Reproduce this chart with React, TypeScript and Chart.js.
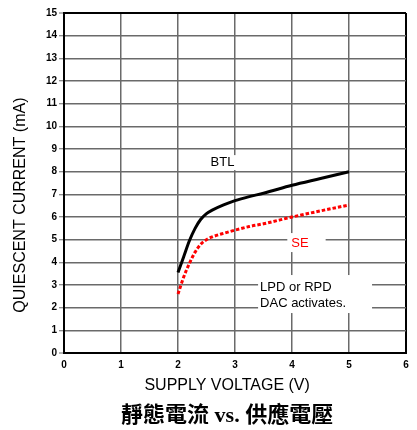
import React, { useEffect, useRef } from "react";
import { Chart, registerables } from "chart.js";

Chart.register(...registerables);

// ---- data ----
const supplyVoltage = [2.0, 2.1, 2.2, 2.3, 2.4, 2.5, 2.6, 2.8, 3.0, 3.25, 3.5, 4.0, 4.5, 5.0];
const btlCurrent = [3.55, 4.25, 4.95, 5.5, 5.9, 6.15, 6.3, 6.53, 6.72, 6.9, 7.05, 7.4, 7.7, 8.0];
const seCurrent = [2.6, 3.35, 3.95, 4.45, 4.8, 5.0, 5.12, 5.28, 5.42, 5.58, 5.7, 6.0, 6.27, 6.53];
const xTickValues = [0, 1, 2, 3, 4, 5, 6];
const yTickValues = [0, 1, 2, 3, 4, 5, 6, 7, 8, 9, 10, 11, 12, 13, 14, 15];
const seriesNames = ["BTL", "SE"];
const xAxisTitle = "SUPPLY VOLTAGE (V)";
const yAxisTitle = "QUIESCENT CURRENT (mA)";
const chartTitle = "靜態電流 vs. 供應電壓";
const noteLines = ["LPD or RPD", "DAC activates."];

type Note = {
  lines: string[];
  x: number;
  y: number;
  align: "center" | "left";
  color: string;
  pad: [number, number, number, number]; // top, right, bottom, left
};

const notes: Note[] = [
  { lines: [seriesNames[0]], x: 2.78, y: 8.4, align: "center", color: "#000000", pad: [1, 3, 1, 3] },
  { lines: [seriesNames[1]], x: 4.14, y: 4.85, align: "center", color: "#ff0000", pad: [3.5, 17, 2.5, 4] },
  { lines: noteLines, x: 3.44, y: 2.91, align: "left", color: "#000000", pad: [5.5, 26, 3.5, 2] },
];

const GRID = "#6a6a6a";
const SANS = "'Liberation Sans', Arial, sans-serif";

const annotationPlugin = {
  id: "notesAndTitles",
  beforeDatasetsDraw(chart: any) {
    const { ctx, scales } = chart;
    const xs = scales.x;
    const ys = scales.y;
    ctx.save();
    ctx.font = `13px ${SANS}`;
    ctx.textBaseline = "middle";
    const lh = 16;
    notes.forEach((n) => {
      const px = xs.getPixelForValue(n.x);
      const py = ys.getPixelForValue(n.y);
      const w = Math.max(...n.lines.map((l) => ctx.measureText(l).width));
      const left = n.align === "center" ? px - w / 2 : px;
      const top = py - 6.5;
      const bottom = py + (n.lines.length - 1) * lh + 6.5;
      ctx.fillStyle = "#ffffff";
      ctx.fillRect(left - n.pad[3], top - n.pad[0], w + n.pad[3] + n.pad[1], bottom - top + n.pad[0] + n.pad[2]);
      ctx.fillStyle = n.color;
      ctx.textAlign = "left";
      n.lines.forEach((l, i) => {
        const lw = ctx.measureText(l).width;
        const lx = n.align === "center" ? px - lw / 2 : px;
        ctx.fillText(l, lx, py + i * lh);
      });
    });
    ctx.restore();
  },
  afterDraw(chart: any) {
    const { ctx, chartArea } = chart;
    const cx = chartArea.left + (chartArea.right - chartArea.left) * 0.477;
    ctx.save();
    ctx.fillStyle = "#000000";
    ctx.textAlign = "center";
    ctx.textBaseline = "middle";
    ctx.font = `16px ${SANS}`;
    ctx.fillText(xAxisTitle, cx, chartArea.bottom + 33);
    ctx.save();
    ctx.translate(21, chartArea.top + (chartArea.bottom - chartArea.top) * 0.565);
    ctx.rotate(-Math.PI / 2);
    ctx.fillText(yAxisTitle, 0, 0);
    ctx.restore();
    ctx.font = `bold 22px 'Liberation Serif', 'Noto Sans CJK TC', serif`;
    ctx.fillText(chartTitle, cx, chartArea.bottom + 63);
    ctx.restore();
  },
};

export default function App() {
  const canvasRef = useRef<HTMLCanvasElement | null>(null);

  useEffect(() => {
    if (!canvasRef.current) return;
    const chart = new Chart(canvasRef.current, {
      type: "line",
      data: {
        datasets: [
          {
            label: seriesNames[0],
            data: supplyVoltage.map((v, i) => ({ x: v, y: btlCurrent[i] })),
            borderColor: "#000000",
            borderWidth: 3,
            pointRadius: 0,
            cubicInterpolationMode: "monotone",
            fill: false,
          },
          {
            label: seriesNames[1],
            data: supplyVoltage.map((v, i) => ({ x: v, y: seCurrent[i] })),
            borderColor: "#ff0000",
            borderWidth: 3,
            borderDash: [3.5, 2],
            borderCapStyle: "butt",
            pointRadius: 0,
            cubicInterpolationMode: "monotone",
            fill: false,
          },
        ],
      },
      options: {
        animation: false,
        responsive: false,
        maintainAspectRatio: false,
        layout: { padding: { left: 0, right: 11, top: 13, bottom: 0 } },
        plugins: {
          legend: { display: false },
          tooltip: { enabled: false },
          title: { display: false },
        },
        scales: {
          x: {
            type: "linear",
            min: xTickValues[0],
            max: xTickValues[xTickValues.length - 1],
            afterBuildTicks: (s: any) => {
              s.ticks = xTickValues.map((v) => ({ value: v }));
            },
            afterFit: (s: any) => {
              s.height = 77;
            },
            grid: {
              color: (c: any) => (c.tick && (c.tick.value === 6 || c.tick.value === 0) ? "#000000" : GRID),
              lineWidth: (c: any) => (c.tick && (c.tick.value === 6 || c.tick.value === 0) ? 2 : 1.5),
              drawTicks: false,
            },
            border: { color: "#000000", width: 2 },
            ticks: {
              padding: 6,
              color: "#000000",
              font: { family: SANS, size: 10, weight: "bold" },
              maxRotation: 0,
            },
          },
          y: {
            type: "linear",
            min: yTickValues[0],
            max: yTickValues[yTickValues.length - 1],
            afterBuildTicks: (s: any) => {
              s.ticks = yTickValues.map((v) => ({ value: v }));
            },
            afterFit: (s: any) => {
              s.width = 64;
            },
            grid: {
              color: (c: any) => (c.tick && (c.tick.value === 15 || c.tick.value === 0) ? "#000000" : GRID),
              lineWidth: (c: any) => (c.tick && (c.tick.value === 15 || c.tick.value === 0) ? 2 : 1.5),
              tickLength: 5,
              tickColor: GRID,
              tickWidth: 1,
            },
            border: { color: "#000000", width: 2 },
            ticks: {
              padding: 2,
              color: "#000000",
              font: { family: SANS, size: 10, weight: "bold" },
            },
          },
        },
      },
      plugins: [annotationPlugin],
    } as any);
    return () => chart.destroy();
  }, []);

  return (
    <div style={{ position: "fixed", left: 0, top: 0, width: 417, height: 430, background: "#ffffff" }}>
      <canvas ref={canvasRef} width={417} height={430} style={{ width: 417, height: 430, display: "block" }} />
    </div>
  );
}
